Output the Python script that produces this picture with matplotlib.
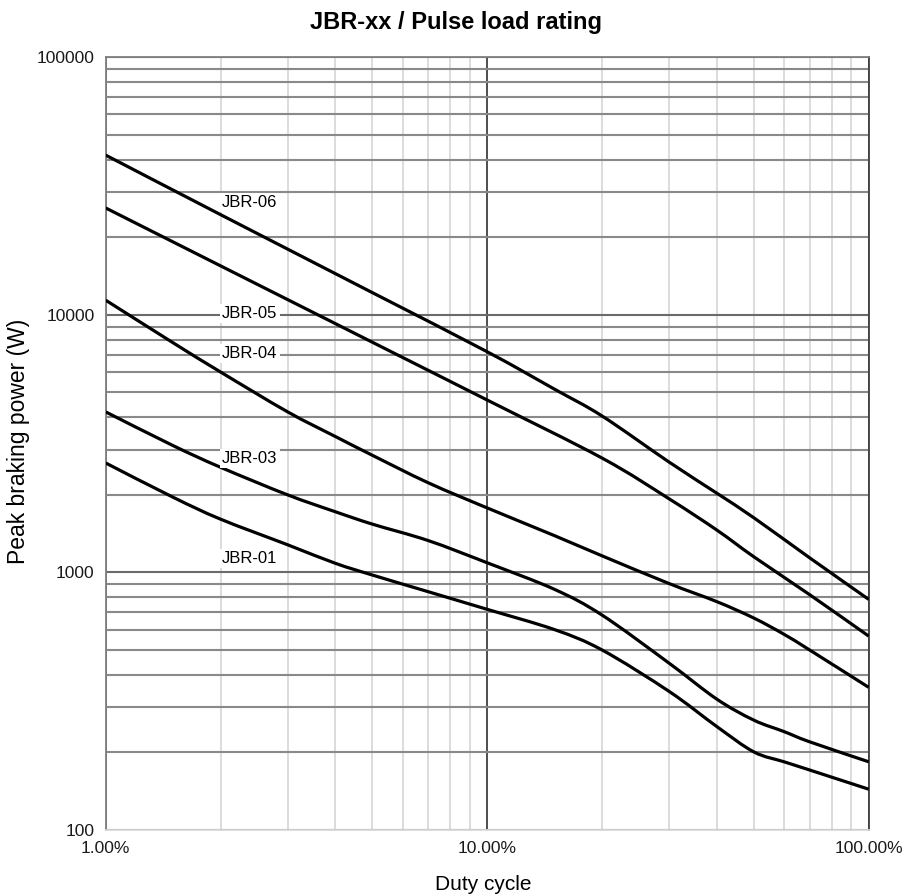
import numpy as np
import matplotlib
matplotlib.use("Agg")
import matplotlib.pyplot as plt
from matplotlib.path import Path
from matplotlib.patches import PathPatch
from matplotlib.ticker import FixedLocator, FuncFormatter, NullFormatter

plt.rcParams['font.family'] = ['Liberation Sans', 'DejaVu Sans']

# duty cycle (%) and peak braking power (W)
duty_06 = [1, 2, 5, 10, 15, 20, 30, 40, 50, 70, 100]
power_06 = [41700, 24500, 12200, 7190, 5150, 4050, 2680, 2030, 1630, 1140, 786]

duty_05 = [1, 2, 5, 10, 20, 30, 40, 50, 70, 100]
power_05 = [26000, 15500, 7830, 4670, 2780, 1930, 1460, 1150, 820, 566]

duty_04 = [1, 1.5, 2, 3, 4, 5, 7, 10, 15, 20, 30, 40, 50, 60, 70, 100]
power_04 = [11400, 7800, 6000, 4200, 3370, 2850, 2230, 1780, 1390, 1160, 905, 770, 665, 575, 500, 358]

duty_03 = [1, 1.5, 2, 3, 4, 5, 7, 10, 15, 20, 30, 40, 50, 60, 70, 100]
power_03 = [4200, 3110, 2560, 2000, 1720, 1540, 1330, 1090, 860, 683, 444, 322, 267, 241, 220, 184]

duty_01 = [1, 1.5, 2, 3, 4, 5, 7, 10, 15, 20, 30, 40, 50, 60, 70, 100]
power_01 = [2660, 1960, 1610, 1280, 1085, 977, 842, 719, 600, 500, 345, 252, 201, 184, 171, 144]

series = [
    ("JBR-06", duty_06, power_06, (2.02, 27400)),
    ("JBR-05", duty_05, power_05, (2.02, 10160)),
    ("JBR-04", duty_04, power_04, (2.02, 7110)),
    ("JBR-03", duty_03, power_03, (2.02, 2780)),
    ("JBR-01", duty_01, power_01, (2.02, 1137)),
]


def smooth_path(xs, ys):
    # Excel-style smoothed line: cubic bezier through the points (in log space)
    L = np.column_stack([np.log10(xs), np.log10(ys)])
    n = len(L)
    verts = [L[0]]
    codes = [Path.MOVETO]
    for i in range(n - 1):
        prev = L[i - 1] if i > 0 else L[i]
        nxt = L[i + 2] if i + 2 < n else L[i + 1]
        c1 = L[i] + (L[i + 1] - prev) / 6
        c2 = L[i + 1] - (nxt - L[i]) / 6
        verts += [c1, c2, L[i + 1]]
        codes += [Path.CURVE4] * 3
    return Path(10 ** np.array(verts), codes)


fig = plt.figure(figsize=(9.12, 8.94), dpi=100)
ax = fig.add_axes([0.1159, 0.0716, 0.8366, 0.8643])
ax.set_xscale('log')
ax.set_yscale('log')
ax.set_xlim(1, 100)
ax.set_ylim(100, 100000)

# grid
ax.xaxis.set_major_locator(FixedLocator([1, 10, 100]))
ax.xaxis.set_minor_locator(FixedLocator([k * d for d in (1, 10) for k in range(2, 10)]))
ax.yaxis.set_major_locator(FixedLocator([100, 1000, 10000, 100000]))
ax.yaxis.set_minor_locator(FixedLocator([k * d for d in (100, 1000, 10000) for k in range(2, 10)]))
ax.xaxis.set_major_formatter(FuncFormatter(lambda v, p: f"{v:.2f}%"))
ax.yaxis.set_major_formatter(FuncFormatter(lambda v, p: f"{int(round(v))}"))
ax.xaxis.set_minor_formatter(NullFormatter())
ax.yaxis.set_minor_formatter(NullFormatter())

ax.grid(True, which='minor', axis='x', color='#d9d9d9', lw=1.3)
ax.grid(True, which='major', axis='x', color='#404040', lw=1.3)
ax.grid(True, which='minor', axis='y', color='#898989', lw=1.5)
ax.grid(True, which='major', axis='y', color='#6a6a6a', lw=1.5)
ax.set_axisbelow(True)

ax.tick_params(which='both', length=0, labelsize=12.5, labelcolor='#1a1a1a')
ax.tick_params(axis='y', pad=8)
ax.tick_params(axis='x', pad=8)

ax.spines['left'].set_color('#808080')
ax.spines['top'].set_color('#808080')
ax.spines['right'].set_color('#404040')
ax.spines['bottom'].set_color('#d9d9d9')
for s in ax.spines.values():
    s.set_linewidth(1.3)

for name, d, p, pos in series:
    ax.add_patch(PathPatch(smooth_path(d, p), fill=False, edgecolor='black',
                           lw=2.3, joinstyle='round', zorder=3))
    ax.text(pos[0], pos[1], name, fontsize=12, ha='left', va='center', zorder=4,
            bbox=dict(facecolor='white', edgecolor='none', pad=1.5))

fig.text(0.5, 1 - 22 / 894, "JBR-xx / Pulse load rating", fontsize=17,
         fontweight='bold', ha='center', va='center')
fig.text(483 / 912, 1 - 884 / 894, "Duty cycle", fontsize=15, ha='center', va='center')
fig.text(19 / 912, 1 - 441 / 894, "Peak braking power (W)", fontsize=16.5,
         rotation=90, ha='center', va='center')

fig.savefig("out.png", dpi=100)
